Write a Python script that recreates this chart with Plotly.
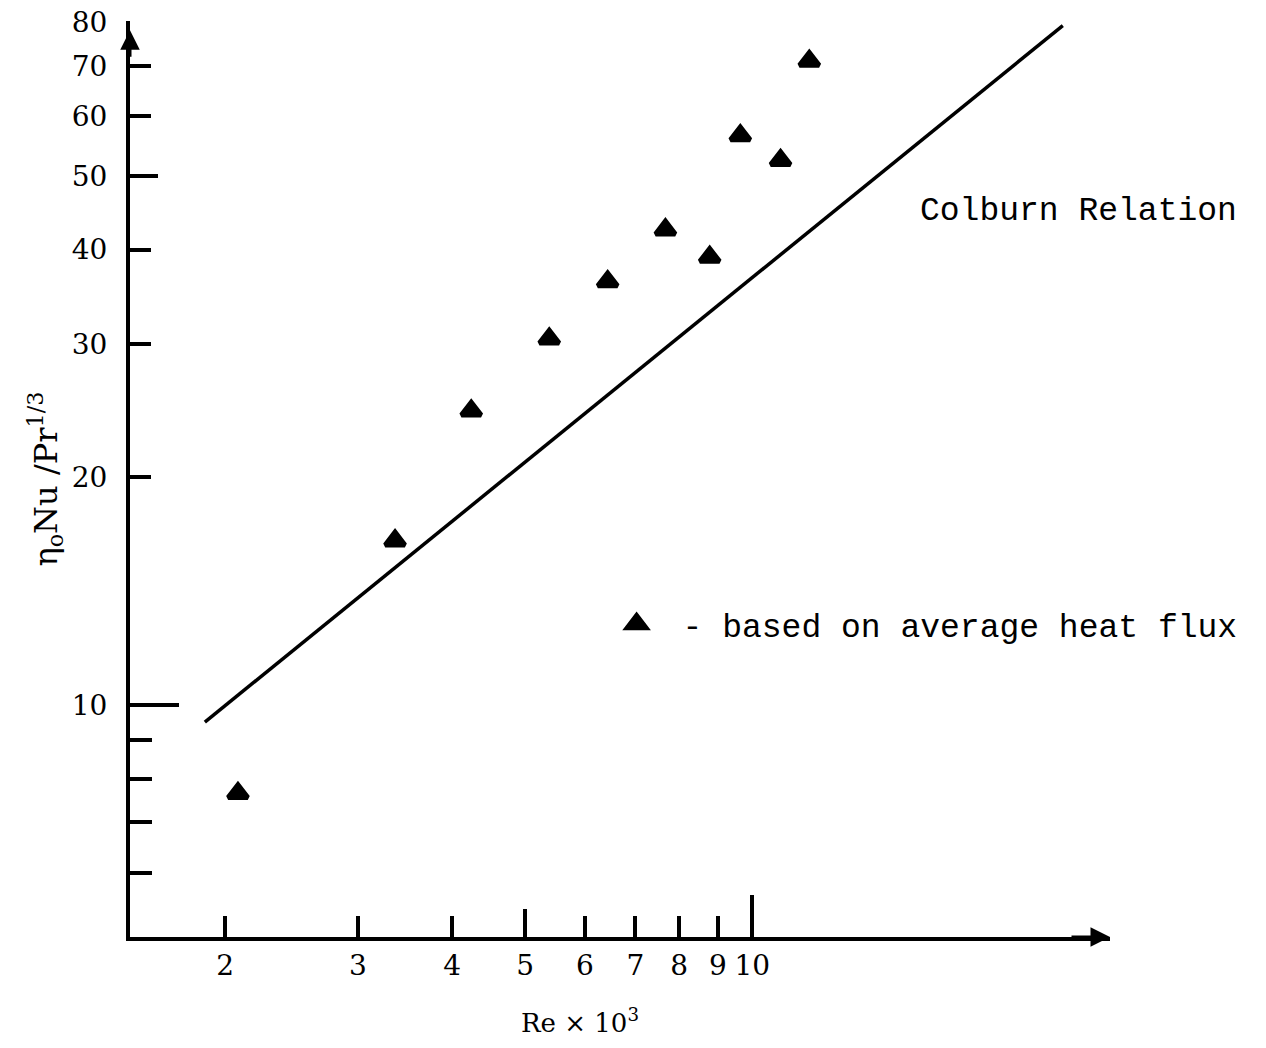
import numpy as np
import plotly.graph_objects as go

# Data (log-log)
re_x = [2.08, 3.36, 4.24, 5.38, 6.43, 7.67, 8.78, 9.64, 10.9, 11.9]
nu_y = [7.65, 16.5, 24.5, 30.5, 36.3, 42.5, 39.1, 56.6, 52.5, 71.0]

colburn_x = [1.88, 25.8]
colburn_y = [9.5, 79.1]

x_ticks = [2, 3, 4, 5, 6, 7, 8, 9, 10]
y_ticks = [10, 20, 30, 40, 50, 60, 70, 80]
y_minor = [6, 7, 8, 9]
x_long = [10]
x_mid = [5]
y_long = [10, 80]
y_mid = [50]

x_range = [np.log10(1.496), np.log10(29.8)]
y_range = [np.log10(4.94), np.log10(80.2)]

serif = "DejaVu Serif"
mono = "Liberation Mono"

fig = go.Figure()

fig.add_trace(go.Scatter(
    x=colburn_x, y=colburn_y, mode="lines",
    line=dict(color="black", width=3.5), showlegend=False, hoverinfo="skip"))

fig.add_trace(go.Scatter(
    x=re_x, y=nu_y, mode="markers", name="- based on average heat flux",
    marker=dict(symbol="triangle-up", size=17, color="black",
                line=dict(color="black", width=5))))

# invisible trace to realise the overlay axes
fig.add_trace(go.Scatter(x=[], y=[], xaxis="x2", yaxis="y2",
                         showlegend=False, hoverinfo="skip"))

axis_common = dict(type="log", showgrid=False, zeroline=False,
                   automargin=False,
                   linecolor="black", linewidth=4,
                   tickcolor="black", tickwidth=4, ticks="inside")

fig.update_layout(
    width=1250, height=1032,
    paper_bgcolor="white", plot_bgcolor="white",
    margin=dict(l=122, r=148, t=13, b=103),
    xaxis=dict(**axis_common, range=x_range, showline=True,
               tickmode="array", tickvals=x_ticks,
               ticktext=[str(v) for v in x_ticks], ticklen=21,
               ticklabelstandoff=0, ticklabeloverflow="allow",
               tickfont=dict(family=serif, size=28, color="black")),
    yaxis=dict(**axis_common, range=y_range, showline=True,
               tickmode="array", tickvals=y_ticks,
               ticktext=[str(v) for v in y_ticks], ticklen=21,
               ticklabelstandoff=13, ticklabeloverflow="allow",
               tickfont=dict(family=serif, size=28, color="black"),
               minor=dict(tickmode="array", tickvals=y_minor, ticks="inside",
                          ticklen=22, tickwidth=4, tickcolor="black"),
               title=dict(text="η<sub>o</sub>Nu /Pr<sup>1/3</sup>",
                          font=dict(family=serif, size=32, color="black"),
                          standoff=6)),
    xaxis2=dict(**axis_common, range=x_range, overlaying="x", anchor="y2",
                side="bottom", showline=False, tickmode="array",
                tickvals=x_long, ticklen=42, showticklabels=False,
                minor=dict(tickmode="array", tickvals=x_mid, ticks="inside",
                           ticklen=28, tickwidth=4, tickcolor="black")),
    yaxis2=dict(**axis_common, range=y_range, overlaying="y", anchor="x2",
                side="left", showline=False, tickmode="array",
                tickvals=y_long, ticklen=49, showticklabels=False,
                minor=dict(tickmode="array", tickvals=y_mid, ticks="inside",
                           ticklen=28, tickwidth=4, tickcolor="black")),
    legend=dict(x=0.470, y=0.342, xanchor="left", yanchor="middle",
                itemwidth=82,
                bgcolor="rgba(0,0,0,0)",
                font=dict(family=mono, size=33, color="black")),
    showlegend=True,
)

# Colburn relation label
fig.add_annotation(x=np.log10(16.6), y=np.log10(44.9), xref="x", yref="y",
                   text="Colburn Relation", showarrow=False, xanchor="left",
                   yanchor="middle",
                   font=dict(family=mono, size=33, color="black"))

# x axis title
fig.add_annotation(x=0.459, y=0, xref="paper", yref="paper", yshift=-84,
                   yanchor="middle",
                   text="Re × 10<sup>3</sup>", showarrow=False,
                   font=dict(family=serif, size=26, color="black"))

# axis arrowheads
fig.add_annotation(x=1, y=0, xref="paper", yref="paper", ax=-40, ay=0,
                   showarrow=True, arrowhead=2, arrowsize=1.3, arrowwidth=3,
                   arrowcolor="black", text="")
fig.add_annotation(x=0, y=0.99, xref="paper", yref="paper", ax=0, ay=28,
                   showarrow=True, arrowhead=2, arrowsize=1.3, arrowwidth=3,
                   arrowcolor="black", text="")

fig.write_html("out.html")
